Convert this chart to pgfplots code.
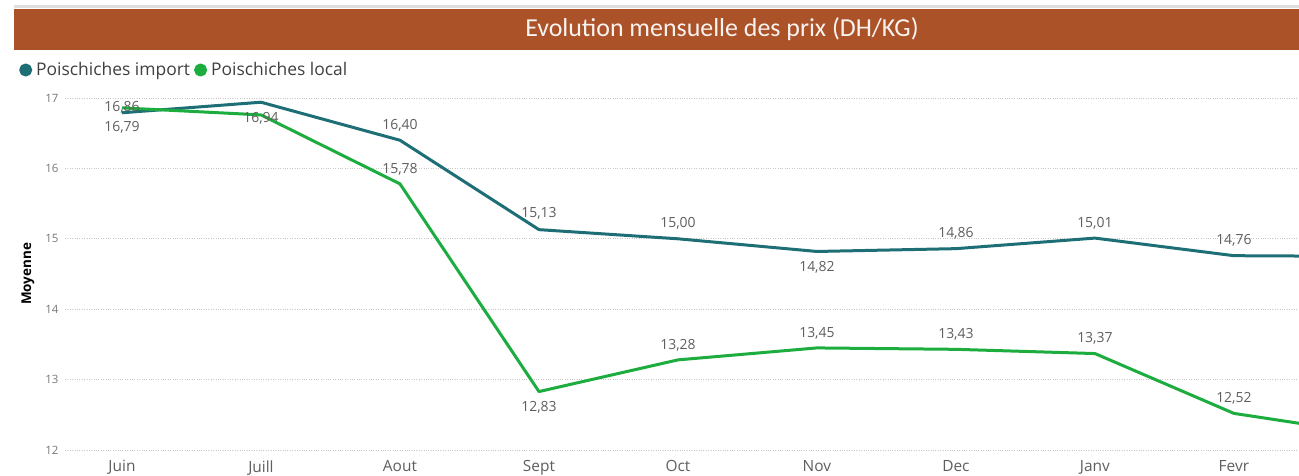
\documentclass[border=0pt]{standalone}
\usepackage{pgfplots}
\pgfplotsset{compat=1.18}
\usepackage{pgfplotstable}
\usepackage{fontspec}
\setmainfont{Open Sans}
\newfontfamily\titlefont{Carlito}
\definecolor{teal1}{HTML}{1E6E76}
\definecolor{green1}{HTML}{1CAD3E}
\definecolor{brown1}{HTML}{AB5229}
\definecolor{lbl}{HTML}{605E5C}
\definecolor{tick}{HTML}{777777}
\definecolor{gridc}{HTML}{C8C8C8}

\pgfplotstableread{
x y
0 16.79
1 16.94
2 16.40
3 15.13
4 15.00
5 14.82
6 14.86
7 15.01
8 14.76
9 14.75
}\importdata
\pgfplotstableread{
x y
0 16.86
1 16.76
2 15.78
3 12.83
4 13.28
5 13.45
6 13.43
7 13.37
8 12.52
9 12.22
}\localdata
\pgfplotstableread{
x y dy
0 16.79 -15
1 16.94 -16
2 16.40 15
3 15.13 16
4 15.00 15
5 14.82 -16
6 14.86 15
7 15.01 15
8 14.76 15
}\importlabels
\pgfplotstableread{
x y dy
0 16.86 1
2 15.78 15
3 12.83 -16
4 13.28 15
5 13.45 15
6 13.43 15
7 13.37 15
8 12.52 15
}\locallabels

\begin{document}
\begin{tikzpicture}
\begin{axis}[
  at={(65bp,26bp)}, anchor=south west,
  scale only axis, width=1234bp, height=352bp,
  xmin=-0.41, xmax=8.468, ymin=12, ymax=17,
  clip mode=individual,
  axis line style={draw=none},
  major tick style={draw=none},
  ymajorgrids, grid style={gridc, dotted, line width=0.8pt},
  xtick={0,...,8},
  xticklabels={Juin,Juill,Aout,Sept,Oct,Nov,Dec,Janv,Fevr},
  ytick={12,13,14,15,16,17},
  /pgf/number format/assume math mode=true,
  xticklabel style={text=lbl, font=\fontsize{15.5}{17}\selectfont, yshift=-7bp},
  yticklabel style={text=tick, font=\fontsize{11.5}{13}\selectfont, xshift=-3bp},
  ylabel={Moyenne},
  ylabel style={font=\fontsize{13.5}{15}\selectfont\bfseries, at={(axis description cs:-0.03,0.5)}, anchor=center},
  legend style={draw=none, fill=none, at={(-46bp,380bp)}, anchor=west, font=\fontsize{17.5}{19}\selectfont, text=black!75, legend cell align=left, column sep=2bp, inner sep=0pt},
  legend columns=2,
  legend image code/.code={\fill[#1] (4bp,0) circle (5bp);},
  nodes near coords style={font=\fontsize{14}{16}\selectfont, text=lbl, anchor=center},
]
\addplot[teal1, line width=3bp, line join=round] table[x=x,y=y] {\importdata};
\addlegendentry{Poischiches import}
\addplot[green1, line width=3bp, line join=round] table[x=x,y=y] {\localdata};
\addlegendentry{Poischiches local}
\addplot[draw=none, mark=none, forget plot,
  visualization depends on={\thisrow{dy} \as \dy},
  nodes near coords={\pgfmathprintnumber[fixed,fixed zerofill,precision=2,use comma]{\pgfplotspointmeta}},
  every node near coord/.append style={yshift=\dy bp},
  point meta=explicit] table[x=x,y=y,meta=y] {\importlabels};
\addplot[draw=none, mark=none, forget plot,
  visualization depends on={\thisrow{dy} \as \dy},
  nodes near coords={\pgfmathprintnumber[fixed,fixed zerofill,precision=2,use comma]{\pgfplotspointmeta}},
  every node near coord/.append style={yshift=\dy bp},
  point meta=explicit] table[x=x,y=y,meta=y] {\locallabels};
\end{axis}
% title bar
\fill[gray!25] (14bp,468bp) rectangle (1299bp,471bp);
\fill[brown1] (14bp,426bp) rectangle (1299bp,467bp);
\node[text=white!93!brown1, font=\titlefont\fontsize{26}{28}\selectfont] at (722bp,446.5bp) {Evolution mensuelle des prix (DH/KG)};
\pgfresetboundingbox
\path[use as bounding box] (0bp,0bp) rectangle (1299bp,476bp);
\end{tikzpicture}
\end{document}
